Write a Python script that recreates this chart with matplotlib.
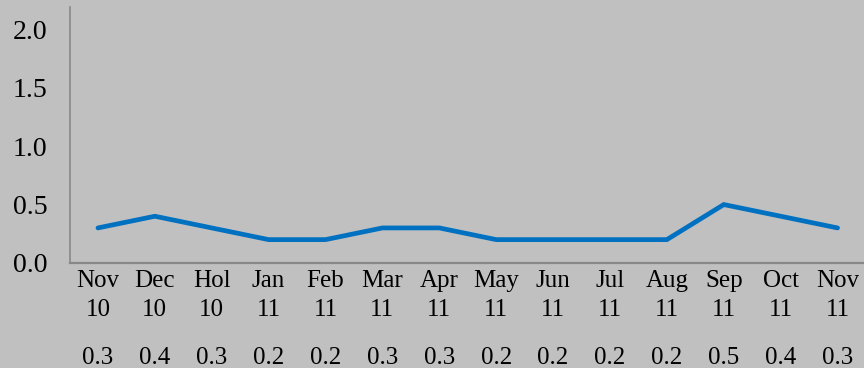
import matplotlib.pyplot as plt
import numpy as np

months = ['Nov', 'Dec', 'Hol', 'Jan', 'Feb', 'Mar', 'Apr', 'May', 'Jun', 'Jul', 'Aug', 'Sep', 'Oct', 'Nov']
years = ['10', '10', '10', '11', '11', '11', '11', '11', '11', '11', '11', '11', '11', '11']
values = [0.3, 0.4, 0.3, 0.2, 0.2, 0.3, 0.3, 0.2, 0.2, 0.2, 0.2, 0.5, 0.4, 0.3]
yticks = [0.0, 0.5, 1.0, 1.5, 2.0]

plt.rcParams['font.family'] = ['Liberation Serif', 'DejaVu Serif']

bg = '#c0c0c0'
fig = plt.figure(figsize=(8.64, 3.68), dpi=100, facecolor=bg)
ax = fig.add_axes([69.5 / 864, 1 - 263 / 368, (866 - 69.5) / 864, 256 / 368])
ax.set_facecolor(bg)

x = np.arange(len(values))
ax.plot(x, values, color='#0070c0', linewidth=3.4, solid_capstyle='round', solid_joinstyle='miter')

ax.set_xlim(-0.5, len(values) - 0.5)
ax.set_ylim(0, 2.19)
ax.set_yticks(yticks)
ax.set_yticklabels(['%.1f' % v for v in yticks], fontsize=20)
ax.set_xticks(x)
ax.set_xticklabels([m + '\n' + y for m, y in zip(months, years)], fontsize=18, linespacing=1.4)
ax.tick_params(axis='y', length=0, pad=16)
ax.tick_params(axis='x', length=0, pad=5)

for s in ['top', 'right']:
    ax.spines[s].set_visible(False)
ax.spines['left'].set_color('#888888')
ax.spines['left'].set_linewidth(1.2)
ax.spines['bottom'].set_color('#888888')
ax.spines['bottom'].set_linewidth(1.6)

# data table row under the category labels
for i, v in enumerate(values):
    ax.annotate('%.1f' % v, xy=(i, 0), xycoords=('data', 'axes fraction'),
                xytext=(0, -101), textcoords='offset pixels',
                ha='center', va='baseline', fontsize=18, annotation_clip=False)

fig.savefig('out.png', dpi=100, facecolor=bg)
